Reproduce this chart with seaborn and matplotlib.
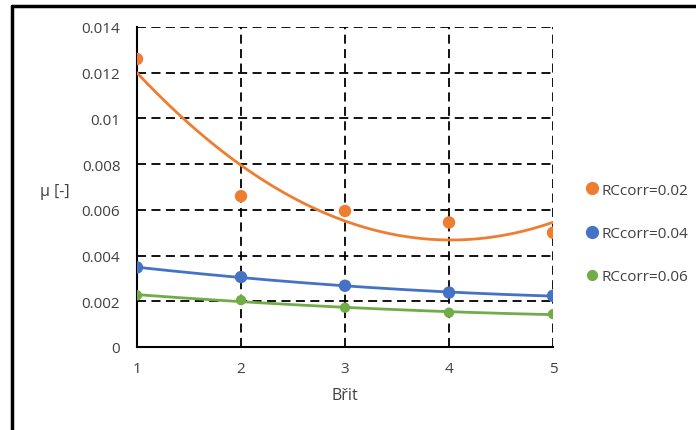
import numpy as np
import pandas as pd
import matplotlib
matplotlib.use("Agg")
import matplotlib.pyplot as plt
import seaborn as sns
from matplotlib.ticker import FuncFormatter, FixedLocator
from matplotlib.lines import Line2D

# Data
brit = [1, 2, 3, 4, 5]
rc002 = [0.0126, 0.0066, 0.00595, 0.00545, 0.0050]
rc004 = [0.00348, 0.00306, 0.00268, 0.00238, 0.00224]
rc006 = [0.00226, 0.00205, 0.00172, 0.00150, 0.00144]
series_names = ["RCcorr=0.02", "RCcorr=0.04", "RCcorr=0.06"]
colors = ["#ED7D31", "#4472C4", "#70AD47"]
marker_sizes = [80, 80, 55]

sns.set_theme(style="white")
plt.rcParams['font.family'] = ['Open Sans', 'DejaVu Sans']

df = pd.DataFrame({
    "Břit": brit * 3,
    "mu": rc002 + rc004 + rc006,
    "series": [series_names[0]] * 5 + [series_names[1]] * 5 + [series_names[2]] * 5,
})

# polynomial (order 2) trendlines as in the spreadsheet
xs = np.linspace(1, 5, 200)
trend_rows = []
for name, vals in zip(series_names, [rc002, rc004, rc006]):
    c = np.polyfit(brit, vals, 2)
    for xv, yv in zip(xs, np.polyval(c, xs)):
        trend_rows.append((xv, yv, name))
tdf = pd.DataFrame(trend_rows, columns=["Břit", "mu", "series"])

fig = plt.figure(figsize=(6.96, 4.31), dpi=100)
ax = fig.add_axes([137/696, 1 - 348/431, (553-137)/696, (348-28)/431])

pal = dict(zip(series_names, colors))
sns.lineplot(data=tdf, x="Břit", y="mu", hue="series", palette=pal, ax=ax,
             linewidth=2, legend=False, zorder=3)
for name, ms in zip(series_names, marker_sizes):
    sub = df[df.series == name]
    sns.scatterplot(data=sub, x="Břit", y="mu", color=pal[name], s=ms,
                    edgecolor="none", ax=ax, legend=False, zorder=4)

ax.set_xlim(1, 5)
ax.set_ylim(0, 0.014)
ax.xaxis.set_major_locator(FixedLocator(brit))
ax.yaxis.set_major_locator(FixedLocator(np.arange(0, 0.0141, 0.002)))
ax.yaxis.set_major_formatter(FuncFormatter(lambda v, p: "0" if abs(v) < 1e-12 else f"{round(v, 3):g}"))
ax.grid(True, color="black", linestyle=(0, (5, 3)), linewidth=1.3, zorder=1)
ax.set_axisbelow(True)
for s in ["top", "right"]:
    ax.spines[s].set_visible(False)
for s in ["left", "bottom"]:
    ax.spines[s].set_color("black")
    ax.spines[s].set_linewidth(1.5)
    ax.spines[s].set_zorder(2)
ax.tick_params(axis="both", length=0, labelsize=11, colors="#404040")
ax.tick_params(axis="y", pad=12)
ax.tick_params(axis="x", pad=10)
ax.set_xlabel("Břit", fontsize=11.5, color="#404040", labelpad=8)
ax.set_ylabel("μ [-]", fontsize=11.5, color="#404040", rotation=0, labelpad=0,
              ha="center", va="center")
ax.yaxis.set_label_coords(-0.197, 0.4875)

handles = [Line2D([], [], linestyle="none", marker="o", color=c, markersize=ms ** 0.5 * 0.95)
           for c, ms in zip(colors, marker_sizes)]
leg = fig.legend(handles, series_names, loc="upper left", bbox_to_anchor=(569/696, 1 - 170/431),
                 frameon=False, fontsize=11, labelspacing=1.85, handletextpad=0.05,
                 handlelength=1.2, labelcolor="#404040")

# outer frame lines
fig.add_artist(Line2D([12/696, 1], [1 - 7/431, 1 - 7/431], color="black", linewidth=2.5,
                      transform=fig.transFigure))
fig.add_artist(Line2D([12/696, 12/696], [0, 1 - 7/431], color="black", linewidth=2.5,
                      transform=fig.transFigure))

fig.savefig("out.png", dpi=100)
